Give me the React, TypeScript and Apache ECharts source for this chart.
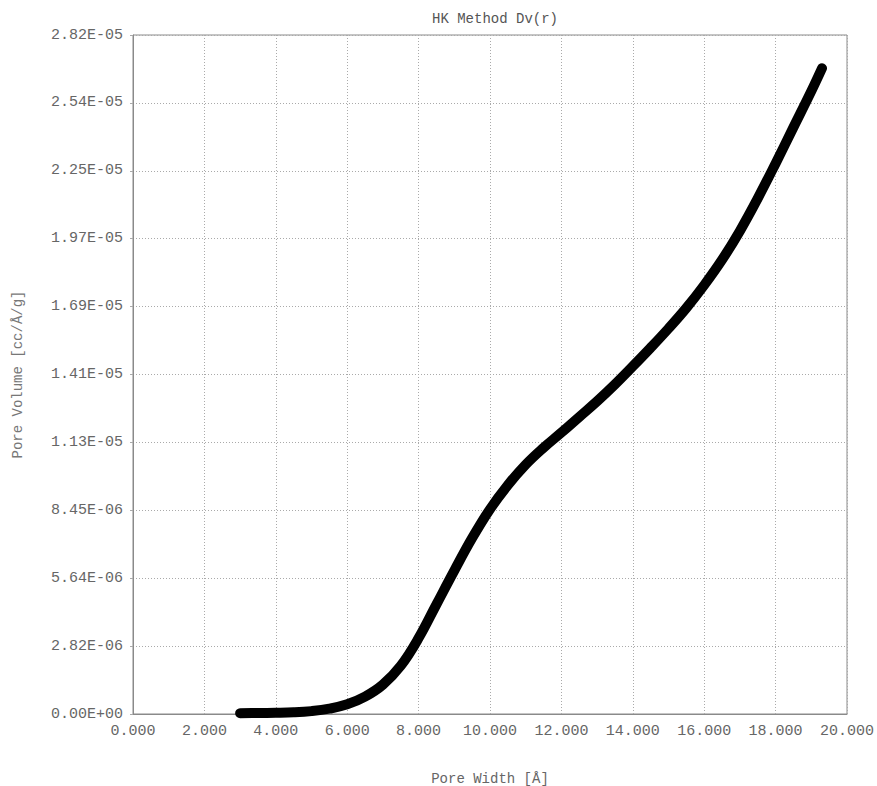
import React, { useEffect, useRef } from "react";
import * as echarts from "echarts";

const poreWidth = [
  3.0, 3.5, 4.0, 4.5, 5.0, 5.5, 6.0, 6.5, 7.0, 7.5, 8.0, 8.5, 9.0, 9.5, 10.0,
  10.5, 11.0, 11.5, 12.0, 12.5, 13.0, 13.5, 14.0, 14.5, 15.0, 15.5, 16.0, 16.5,
  17.0, 17.5, 18.0, 18.5, 19.0, 19.3,
];
const poreVolume = [
  0.03e-6, 0.04e-6, 0.05e-6, 0.07e-6, 0.12e-6, 0.22e-6, 0.4e-6, 0.72e-6, 1.22e-6,
  2.0e-6, 3.15e-6, 4.55e-6, 5.95e-6, 7.3e-6, 8.5e-6, 9.5e-6, 10.35e-6,
  11.05e-6, 11.68e-6, 12.33e-6, 12.98e-6, 13.68e-6, 14.43e-6, 15.2e-6, 16.0e-6,
  16.85e-6, 17.8e-6, 18.85e-6, 20.05e-6, 21.4e-6, 22.85e-6, 24.35e-6, 25.85e-6,
  26.8e-6,
];
const yMax = 2.818e-5;
const yStep = 2.818e-6;
const xMax = 20;
const xStep = 2;

const titleText = "HK Method Dv(r)";
const xName = "Pore Width [Å]";
const yName = "Pore Volume [cc/Å/g]";

const FONT = "'Liberation Mono', 'DejaVu Sans Mono', monospace";

function fmtExp(v: number): string {
  if (Math.abs(v) < 1e-20) return "0.00E+00";
  const s = v.toExponential(2);
  const [m, e] = s.split("e");
  const n = parseInt(e, 10);
  const sign = n < 0 ? "-" : "+";
  const abs = Math.abs(n);
  return m + "E" + sign + (abs < 10 ? "0" + abs : String(abs));
}

export default function App() {
  const ref = useRef<HTMLDivElement>(null);
  useEffect(() => {
    if (!ref.current) return;
    const chart = echarts.init(ref.current, null, { renderer: "svg" });
    const data = poreWidth.map((x, i) => [x, poreVolume[i]]);
    chart.setOption({
      animation: false,
      backgroundColor: "#ffffff",
      title: {
        text: titleText,
        left: 490,
        top: 7,
        textAlign: "center",
        textStyle: {
          fontFamily: FONT,
          fontSize: 14,
          fontWeight: "normal",
          color: "#555",
        },
      },
      grid: {
        left: 133,
        right: 30,
        top: 35,
        bottom: 72,
        show: true,
        borderColor: "#8a8a8a",
        borderWidth: 1,
        outerBoundsMode: "none",
        containLabel: false,
      },
      xAxis: {
        type: "value",
        min: 0,
        max: xMax,
        interval: xStep,
        name: xName,
        nameLocation: "middle",
        nameGap: 58,
        nameTextStyle: { fontFamily: FONT, fontSize: 14, color: "#666" },
        axisLine: { show: true, lineStyle: { color: "#8a8a8a", width: 1 } },
        axisTick: { show: false },
        axisLabel: {
          fontFamily: FONT,
          fontSize: 15,
          color: "#666",
          margin: 10,
          formatter: (v: number) => v.toFixed(3),
        },
        splitLine: {
          show: true,
          lineStyle: { color: "#aaa", type: [1, 2], width: 1 },
        },
      },
      yAxis: {
        type: "value",
        min: 0,
        max: yMax,
        interval: yStep,
        name: yName,
        nameLocation: "middle",
        nameGap: 108,
        nameTextStyle: { fontFamily: FONT, fontSize: 14, color: "#777" },
        axisLine: { show: true, lineStyle: { color: "#8a8a8a", width: 1 } },
        axisTick: { show: true, length: 3, lineStyle: { color: "#aaa" } },
        axisLabel: {
          fontFamily: FONT,
          fontSize: 15,
          color: "#666",
          margin: 10,
          formatter: (v: number) => fmtExp(v),
        },
        splitLine: {
          show: true,
          lineStyle: { color: "#aaa", type: [1, 2], width: 1 },
        },
      },
      series: [
        {
          type: "line",
          data,
          showSymbol: false,
          smooth: 0.4,
          lineStyle: { color: "#000", width: 10, cap: "round", join: "round" },
        },
      ],
    });
    return () => chart.dispose();
  }, []);
  return (
    <div
      ref={ref}
      style={{ position: "fixed", left: 0, top: 0, width: 877, height: 786 }}
    />
  );
}
